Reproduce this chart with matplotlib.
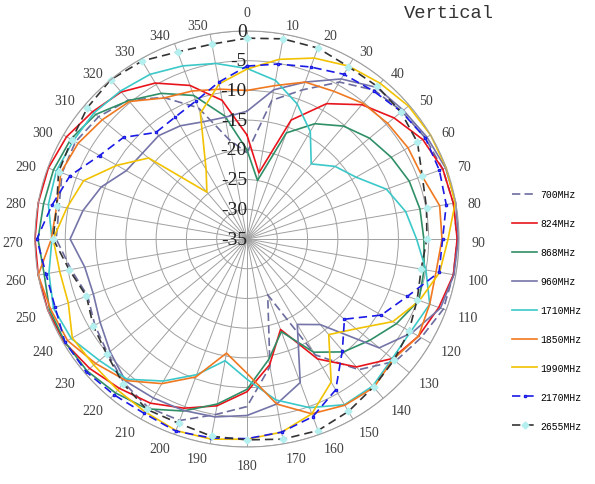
import numpy as np
import matplotlib
matplotlib.use("Agg")
import matplotlib.pyplot as plt
from matplotlib.transforms import offset_copy

# angles (deg, clockwise from top) and gain readings (dB)
angles_deg = np.arange(0, 360, 10)
radial_ticks = [-35, -30, -25, -20, -15, -10, -5, 0]
radial_labels = ["-35", "-30", "-25", "-20", "-15", "-10", "-5", "0"]
angle_labels = [str(a) for a in angles_deg]

freq_labels = ["700MHz", "824MHz", "868MHz", "960MHz", "1710MHz",
               "1850MHz", "1990MHz", "2170MHz", "2655MHz"]

g700 = [-20.5, -11.3, -8.3, -4.5, -2.3, -1.6, -1.0, -0.6, -0.4, -0.3,
        -0.4, -0.5, -1.8, -3.0, -6.3, -12.5, -25.0, -13.2, -6.8, -5.0,
        -2.5, -2.3, -3.4, -5.0, -6.0, -7.0, -5.5, -3.5, -3.5, -2.5,
        -2.3, -3.0, -4.5, -7.5, -11.5, -18.0]
g824 = [-17.5, -23.7, -13.7, -8.7, -5.5, -3.3, -1.5, -0.6, -0.4, -0.3,
        -0.4, -1.3, -2.3, -3.7, -6.9, -11.7, -18.8, -13.5, -9.3, -6.5,
        -4.7, -3.1, -2.2, -1.1, -0.2, 0.0, 0.0, 0.0, 0.0, -0.1,
        -0.6, -1.7, -2.7, -4.7, -7.5, -11.3]
g868 = [-20.0, -25.0, -16.0, -12.6, -10.2, -8.6, -7.5, -6.5, -6.0, -5.8,
        -5.3, -4.8, -6.5, -8.5, -10.2, -13.0, -18.4, -14.4, -9.7, -6.8,
        -4.2, -2.0, -1.2, -0.5, -0.3, -0.3, -1.0, -0.5, -0.9, -1.0,
        -1.4, -2.4, -4.6, -6.7, -9.3, -14.0]
g960 = [-13.5, -9.5, -6.9, -3.9, -1.7, -1.3, -0.7, -0.1, 0.0, -0.1,
        -0.3, -1.0, -3.5, -6.5, -16.2, -18.4, -9.3, -6.8, -5.3, -4.6,
        -4.3, -4.1, -3.8, -5.5, -7.0, -8.0, -7.8, -5.8, -7.5, -9.4,
        -12.0, -12.5, -12.3, -13.0, -14.0, -14.2]
g1710 = [-6.3, -7.9, -10.8, -14.1, -18.5, -16.0, -14.2, -10.5, -8.4, -7.0,
         -5.0, -2.9, -3.8, -3.7, -2.7, -2.8, -4.8, -7.5, -11.4, -14.2,
         -10.7, -7.4, -4.2, -3.2, -1.5, -1.0, -1.8, -2.8, -1.7, -1.5,
         -1.9, -2.0, -2.5, -3.0, -4.0, -5.0]
g1850 = [-10.0, -8.8, -6.9, -6.3, -5.2, -4.7, -4.3, -4.2, -2.7, -2.8,
         -3.3, -2.9, -2.3, -3.5, -2.4, -2.7, -3.7, -6.8, -12.4, -15.5,
         -10.3, -6.9, -3.9, -2.4, -0.8, -0.5, 0.0, -2.7, -3.1, -2.3,
         -2.8, -3.8, -4.8, -7.6, -8.5, -9.4]
g1990 = [-6.4, -4.3, -2.6, -1.4, -0.8, -0.2, 0.0, 0.0, -0.1, -1.8,
         -2.7, -4.7, -7.2, -11.5, -14.0, -7.2, -3.7, -2.0, -1.3, -0.8,
         -0.7, -1.4, -1.8, -2.0, -1.7, -3.6, -3.6, -3.0, -4.8, -6.3,
         -10.2, -13.8, -24.7, -21.5, -12.5, -8.5]
g2170 = [-5.9, -5.1, -4.2, -3.0, -2.5, -1.7, -1.0, -1.2, -1.6, -2.7,
         -2.8, -6.8, -9.4, -14.0, -10.5, -5.7, -3.2, -2.0, -1.4, -1.0,
         -0.6, -1.1, -0.8, -0.3, -0.3, -1.3, -1.3, -0.3, -2.3, -3.9,
         -6.9, -8.4, -11.6, -11.3, -10.3, -8.2]
g2655 = [-1.2, -0.8, -0.8, -1.5, -1.5, -1.8, -2.5, -4.2, -4.9, -5.3,
         -5.8, -5.1, -4.1, -3.3, -2.5, -1.5, -0.7, -0.8, -1.2, -1.3,
         -2.0, -1.9, -3.2, -4.8, -5.7, -6.8, -5.2, -3.0, -3.1, -1.9,
         -1.6, -0.6, 0.0, -0.4, -1.5, -1.7]

series = [g700, g824, g868, g960, g1710, g1850, g1990, g2170, g2655]

# line styles: (color, linestyle, marker, marker face)
styles = [
    ("#6c6c9e", (0, (5, 2.5)), None, None),
    ("#e8141c", "-", None, None),
    ("#2f8f67", "-", None, None),
    ("#7474a8", "-", None, None),
    ("#3cc8c8", "-", None, None),
    ("#f07820", "-", None, None),
    ("#f2c200", "-", None, None),
    ("#1a1ae6", (0, (5, 3)), "s", "#8080ff"),
    ("#333333", (0, (5, 3)), "D", "#b4f0f0"),
]

fig = plt.figure(figsize=(5.95, 4.85), dpi=100)
ax = fig.add_axes([0.0588, 0.0763, 0.7126, 0.8577], projection="polar")
ax.set_aspect("auto")
ax.set_theta_zero_location("N")
ax.set_theta_direction(-1)
ax.set_ylim(-35, 0)

ax.set_xticks(np.deg2rad(angles_deg))
ax.set_xticklabels([])
ax.set_yticks(radial_ticks)
ax.set_yticklabels([])
ax.grid(True, color="#a0a0a0", linewidth=0.7)
ax.spines["polar"].set_color("#a0a0a0")
ax.spines["polar"].set_linewidth(0.8)

theta = np.deg2rad(np.append(angles_deg, angles_deg[0]))
handles = []
for vals, (col, ls, mk, mfc), lab in zip(series, styles, freq_labels):
    r = np.append(vals, vals[0])
    if mk == "D":
        h, = ax.plot(theta, r, color=col, linestyle=ls, linewidth=1.2,
                     marker=mk, markersize=3.5, markerfacecolor=mfc,
                     markeredgecolor=mfc, clip_on=False, label=lab)
    elif mk == "s":
        h, = ax.plot(theta, r, color=col, linestyle=ls, linewidth=1.2,
                     marker=mk, markersize=1.5, markerfacecolor=mfc,
                     markeredgecolor=col, clip_on=False, label=lab)
    else:
        h, = ax.plot(theta, r, color=col, linestyle=ls, linewidth=1.2,
                     clip_on=False, label=lab)
    handles.append(h)

# radial labels along the 0 deg spoke
for v, lab in zip(radial_ticks, radial_labels):
    ax.text(0, v, lab, ha="right", va="center", fontsize=14,
            family="Liberation Serif", color="#222222", zorder=5)

# angle labels outside the ring
shift = offset_copy(ax.transData, fig=fig, x=0, y=-3, units="dots")
for a, lab in zip(angles_deg, angle_labels):
    if a == 0:
        ha, va, tr = "center", "bottom", ax.transData
    elif a == 180:
        ha, va, tr = "center", "top", ax.transData
    elif a < 180:
        ha, va, tr = "left", "center", shift
    else:
        ha, va, tr = "right", "center", shift
    ax.text(np.deg2rad(a), 2.0, lab, ha=ha, va=va, transform=tr,
            fontsize=10, family="Liberation Serif", color="#404040")

fig.text(0.678, 0.972, "Vertical", ha="left", va="center", fontsize=13.5,
         family="Liberation Mono", color="#333333")

fig.legend(handles, freq_labels, loc="upper left",
           bbox_to_anchor=(0.8605, 0.608), frameon=False,
           prop={"family": "Liberation Mono", "size": 7},
           labelspacing=1.95, handlelength=2.6, handletextpad=0.3,
           borderpad=0, borderaxespad=0)

fig.savefig("out.png", dpi=100, facecolor="white")
